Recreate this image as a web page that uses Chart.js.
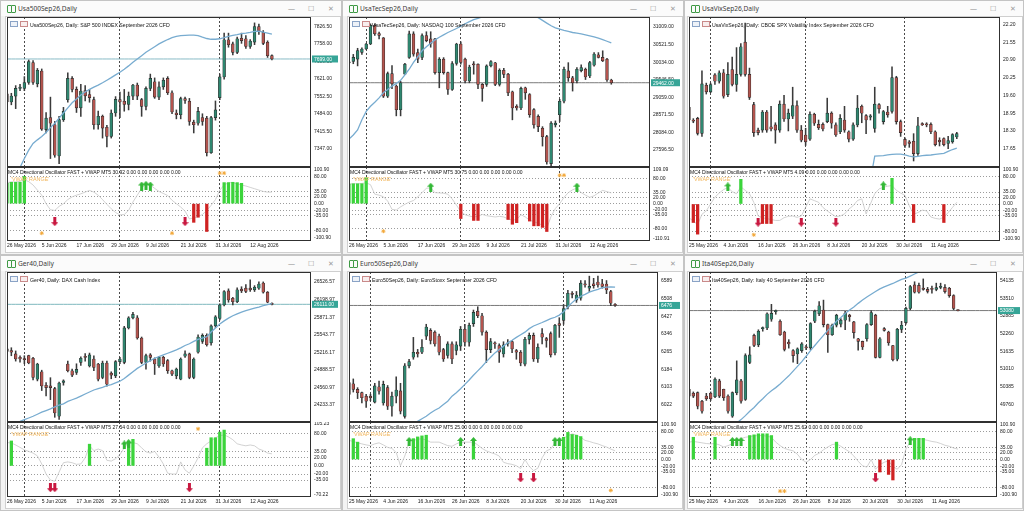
<!DOCTYPE html>
<html lang="en">
<head>
<meta charset="UTF-8">
<title>MT5 Daily charts</title>
<script src="https://cdn.jsdelivr.net/npm/chart.js"></script>
<style>
  body { margin: 0; width: 1024px; height: 511px; background: #e6e6e6; overflow: hidden; font-family: "Liberation Sans", Arial, sans-serif; }
  .win { position: absolute; background: #f3f3f3; box-sizing: border-box; border: 1px solid #c4c4c4; }
  .tbar { position: absolute; left: 0; top: 0; right: 0; height: 15px; background: #fbfbfb; color: #3a3a3a; font: 6.6px "Noto Sans", sans-serif; line-height: 15px; }
  .tbar .ico { position: absolute; left: 6px; top: 4px; width: 3px; height: 6px; border: 1px solid #3f9a45; border-radius: 1px; }
  .tbar .txt { position: absolute; left: 17px; top: 0; }
  .tbar .btn { position: absolute; top: 0; color: #9a9a9a; font-size: 7px; }
  .client { position: absolute; background: #fff; border: 1px solid #cfcfcf; box-sizing: border-box; }
  canvas { position: absolute; }
  .ctitle { position: absolute; font-size: 5.2px; color: #111; white-space: nowrap; }
  .ctitle i { display: inline-block; width: 6px; height: 4px; margin-right: 2px; vertical-align: -0.5px; }
  .otitle { position: absolute; font-size: 5px; color: #111; white-space: nowrap; }
  .vwap { position: absolute; font-size: 5.4px; color: #f1b55a; white-space: nowrap; }
</style>
</head>
<body>
<script>
// ---------- tick labels / categories ----------
const datesA = ['26 May 2026', '5 Jun 2026', '17 Jun 2026', '29 Jun 2026', '9 Jul 2026', '21 Jul 2026', '31 Jul 2026', '12 Aug 2026'];
const datesB = ['25 May 2026', '4 Jun 2026', '16 Jun 2026', '26 Jun 2026', '8 Jul 2026', '20 Jul 2026', '30 Jul 2026', '11 Aug 2026'];
const monthStartsA = [4, 26, 49];
const monthStartsB = [5, 27, 50];
const oscTicks = [100.9, 80, 35, 20, 0, -20, -35, -80, -100.9];

// ---------- Usa500Sep26 ----------
const p1Open = [7563,7531,7554,7584,7584,7607,7685,7602,7652,7423,7470,7442,7320,7462,7540,7623,7580,7508,7576,7560,7540,7442,7475,7432,7396,7488,7540,7534,7521,7554,7597,7540,7514,7584,7610,7550,7590,7623,7567,7488,7481,7544,7534,7452,7448,7470,7468,7333,7470,7548,7629,7774,7758,7725,7780,7778,7748,7765,7826,7803,7764,7712];
const p1Close = [7531,7554,7584,7589,7607,7689,7607,7655,7425,7468,7448,7323,7462,7494,7623,7580,7508,7574,7555,7548,7442,7475,7429,7396,7488,7541,7531,7521,7554,7597,7554,7514,7584,7623,7550,7590,7616,7567,7492,7481,7544,7537,7455,7442,7494,7455,7333,7470,7500,7629,7774,7755,7725,7778,7771,7748,7769,7826,7808,7760,7712,7699];
const p1High = [7580,7565,7595,7600,7630,7695,7693,7662,7660,7490,7550,7455,7475,7510,7645,7630,7590,7600,7595,7580,7550,7495,7480,7440,7500,7552,7570,7580,7570,7600,7605,7545,7590,7640,7625,7610,7625,7630,7575,7500,7550,7550,7545,7460,7510,7485,7475,7475,7535,7640,7800,7800,7765,7785,7800,7790,7775,7840,7835,7810,7770,7715];
const p1Low = [7520,7520,7505,7575,7575,7600,7600,7590,7420,7410,7310,7315,7290,7455,7530,7570,7490,7475,7535,7530,7425,7425,7390,7355,7390,7475,7470,7495,7500,7540,7540,7475,7500,7575,7545,7540,7580,7560,7485,7465,7465,7525,7440,7410,7440,7440,7320,7330,7460,7540,7620,7745,7715,7720,7760,7740,7740,7755,7795,7755,7705,7695];
const p1Ma = [7200,7225,7250,7275,7310,7343,7369,7383,7396,7412,7431,7448,7468,7488,7508,7528,7543,7558,7570,7580,7589,7597,7606,7616,7626,7637,7647,7659,7672,7686,7699,7712,7725,7736,7747,7758,7767,7775,7782,7787,7790,7791,7792,7792,7790,7784,7779,7776,7776,7778,7782,7787,7791,7794,7798,7800,7803,7807,7808,7804,7800,7796];
const p1Osc = [62,64,64,66,70,65,55,40,25,0,-18,-20,-8,0,12,20,25,29,34,39,34,25,12,-2,-15,-26,-33,-32,-20,5,25,45,58,55,45,36,30,24,10,0,-10,-22,-45,-42,-38,-32,-20,-5,12,40,55,62,62,58,55,52,48,44,40,36,34,34];
const p1Green = [[0,60],[1,63],[2,63],[3,63],[4,80],[50,62],[51,62],[52,63],[53,62],[54,60]];
const p1Red = [[43,-55],[44,-40],[46,-82]];
const p1Up = [[31,52],[32,54],[33,52]];
const p1Down = [[11,-53],[41,-53]];
const p1Star = [[8,-87],[38,-87],[49,90],[50,90]];
const p1Ticks = [7826.5, 7758, 7689.5, 7621, 7552.5, 7484, 7415.5, 7347];

// ---------- UsaTecSep26 ----------
const p2Open = [30043,30053,30118,30306,30400,30540,31056,30830,30709,29087,29715,29370,28712,29700,30165,30821,30300,30165,30775,30680,30680,29743,30118,29743,29275,29996,30540,30118,29509,29990,29978,29415,29415,29931,30015,29415,29809,29700,29209,28806,28759,29321,29134,28712,28525,28196,27962,27212,28290,28571,28946,29790,29600,29509,29800,29837,29650,29950,30240,30165,30118,29537];
const p2Close = [30015,30165,30353,30400,30540,31056,30821,30780,29087,29715,29434,28712,29462,29978,30821,30259,30118,30775,30634,30540,29743,30118,29743,29275,29996,30540,30025,29509,29900,29960,29415,29303,29931,30053,29415,29809,29696,29181,28759,28759,29303,29181,28571,28290,28243,27962,27259,28337,28337,28946,29837,29603,29462,29837,29884,29621,30025,30259,30165,30071,29537,29462];
const p2High = [30060,30250,30420,30430,30560,31100,31100,30870,30720,29760,29940,29400,29500,30000,30900,30880,30400,30821,30880,30880,30700,30160,30160,29760,30050,30560,30600,30150,29950,30050,29990,29440,29960,30080,30030,29850,29860,29720,29230,28850,29340,29340,29160,28740,28570,28240,28000,28380,28400,29000,29900,30020,29640,29880,29960,29870,30060,30300,30300,30350,30140,29560];
const p2Low = [30000,29990,29930,30250,30380,30520,30780,30680,29050,29050,29300,28540,28540,29700,30140,30200,30020,30100,30600,30450,29700,29321,29700,29134,29250,29950,29980,29460,29460,29700,29300,28946,29360,29900,29380,29370,29600,29100,28430,28700,28710,29000,28500,28200,28100,27700,27200,27150,28230,28384,28900,29500,29230,29460,29760,29550,29600,29920,30150,30050,29500,29420];
const p2Ma = [27896,28009,28150,28431,28665,28806,28918,29040,29181,29275,29368,29443,29528,29678,29837,30025,30184,30353,30465,30559,30653,30728,30793,30859,30915,30971,31037,31103,31159,31215,31253,31290,31318,31346,31370,31390,31400,31410,31410,31400,31390,31370,31340,31310,31271,31196,31121,31046,30990,30953,30915,30887,30859,30840,30821,30793,30765,30737,30700,30662,30615,30568];
const p2Osc = [62,63,63,64,66,60,30,27,22,8,-18,-20,-10,-2,5,10,22,35,49,50,35,34,33,30,15,-5,-25,-35,-39,-42,-40,-34,-38,-40,-42,-40,-42,-48,-52,-50,-35,-42,-52,-57,-62,-68,-78,-40,-15,0,20,35,44,49,35,27,20,25,34,42,38,34];
const p2Green = [[0,62],[1,63],[2,63],[3,63],[4,82]];
const p2Red = [[26,-47],[29,-53],[30,-53],[37,-50],[38,-65],[39,-60],[42,-55],[43,-70],[44,-70],[45,-75],[46,-88]];
const p2Up = [[19,52],[53,52]];
const p2Down = [];
const p2Star = [[8,-87],[49,90],[50,90]];
const p2Ticks = [31009, 30521.5, 30034, 29546.5, 29059, 28571.5, 28084, 27596.5];
const p2OscTicks = [109.09, 80, 35, 20, 0, -20, -35, -80, -110.91];

// ---------- UsaVixSep26 ----------
const p3Open = [19.16,18.70,18.76,18.21,19.97,19.73,20.35,20.12,20.43,19.63,20.55,20.00,20.37,21.55,20.37,19.26,18.33,18.33,18.99,18.45,18.52,18.33,19.28,18.74,18.84,19.23,18.33,18.15,18.00,18.91,18.54,18.54,18.64,18.95,18.52,18.27,18.70,18.27,18.00,18.52,19.20,18.86,18.80,18.39,19.26,18.64,18.99,19.01,20.25,18.64,17.99,17.90,17.92,17.47,18.57,18.55,18.54,18.27,17.96,18.02,17.84,17.90,18.08];
const p3Close = [18.70,18.66,18.21,20.02,19.73,20.00,20.12,20.43,19.57,20.37,20.00,20.37,21.38,20.37,19.53,18.24,18.24,18.99,18.33,18.37,18.33,19.28,18.74,18.95,19.23,18.33,17.96,17.90,18.91,18.58,18.42,18.37,18.95,18.58,18.15,18.76,18.33,18.00,18.52,19.14,18.95,18.70,18.85,19.28,19.11,19.01,18.89,20.25,18.64,18.24,17.77,17.84,17.47,18.49,18.52,18.52,18.27,17.80,17.90,17.80,17.95,18.17,18.20];
const p3High = [19.25,18.75,18.80,20.50,20.05,20.05,20.40,20.50,20.55,20.80,21.00,21.35,21.50,22.25,20.60,19.35,18.40,19.05,19.05,19.20,18.60,19.40,19.60,19.10,19.90,19.40,18.50,18.40,19.00,18.95,18.70,18.60,19.50,19.00,18.60,18.90,19.20,18.30,18.60,19.60,19.25,18.90,18.90,19.90,19.30,19.05,19.20,20.65,20.30,18.70,18.05,17.95,18.20,18.80,18.60,18.60,18.60,18.30,18.05,18.05,18.10,18.20,18.25];
const p3Low = [18.64,18.60,18.15,18.10,19.65,19.70,20.00,20.05,19.50,19.55,19.95,19.75,20.30,20.30,19.45,18.10,18.15,18.25,18.25,18.30,17.85,18.25,18.65,18.30,18.75,18.25,17.90,17.77,17.95,18.50,18.35,18.30,18.60,18.40,18.10,18.20,18.25,17.90,17.95,18.45,18.60,18.20,18.70,18.25,18.95,18.55,18.80,18.95,18.55,18.10,17.70,17.70,17.20,17.40,18.50,18.45,18.20,17.75,17.75,17.75,17.65,17.85,18.02];
const p3MaStart = 42;
const p3Ma = [16.5,17.38,17.39,17.40,17.42,17.44,17.45,17.45,17.42,17.38,17.35,17.37,17.40,17.41,17.42,17.44,17.46,17.48,17.55,17.62,17.67];
const p3Osc = [-40,-50,-60,-30,-20,0,20,32,42,48,36,30,50,40,30,5,-35,-40,-43,-45,-48,-48,-40,-36,-35,-39,-35,-10,15,10,5,-10,-20,-29,-37,-35,-29,-15,-5,10,15,-29,0,30,44,49,52,54,40,32,25,-5,-30,-25,-18,-20,-38,-42,-44,-39,-25,-10,5];
const p3Green = [[12,72],[47,75]];
const p3Red = [[1,-54],[2,-88],[17,-57],[18,-57],[19,-57],[52,-54],[59,-54]];
const p3Up = [[9,50],[45,53]];
const p3Down = [[16,-53],[26,-53],[34,-53]];
const p3Star = [[15,-90]];
const p3Ticks = [22.20, 21.55, 20.90, 20.25, 19.60, 18.95, 18.30, 17.65];

// ---------- Ger40 ----------
const p4Open = [25279,25247,25185,25120,25090,25153,25103,24712,24850,24598,24586,24536,24019,24650,24995,24870,24838,25027,25140,24960,25090,24995,24743,25015,24825,24775,25040,25027,25670,25859,25859,25481,25027,25166,25090,24960,25121,25058,24870,24775,24712,25140,25185,24743,25216,25420,25531,25392,25708,25847,26098,26362,26224,26161,26395,26413,26413,26382,26413,26508,26338,26130];
const p4Close = [25229,25216,25090,25090,25078,25015,24743,24995,24586,24555,24555,24082,24640,24680,24870,24788,24895,25103,25120,25166,24932,24712,25015,24617,24788,25040,25090,25670,25859,25922,25481,25027,25153,25121,24995,25121,24995,24870,24807,24901,25090,25185,24743,25090,25499,25531,25355,25708,25878,26098,26350,26193,26161,26382,26362,26350,26382,26430,26489,26338,26149,26111];
const p4High = [25330,25300,25240,25150,25150,25160,25120,25010,24880,24650,24740,24560,24660,24700,25050,24900,25000,25130,25190,25200,25150,25010,25050,25050,24850,25060,25120,25700,25880,25960,25900,25500,25180,25190,25110,25140,25140,25080,24880,24920,25110,25240,25200,25110,25540,25560,25560,25730,25900,26120,26370,26400,26240,26420,26440,26480,26570,26460,26530,26530,26350,26140];
const p4Low = [25200,25150,25050,25030,25000,25000,24700,24680,24500,24400,24330,24000,23960,24600,24850,24760,24800,24970,25050,24940,24870,24680,24720,24580,24720,24740,25000,25000,25650,25840,25460,25000,24900,25050,24800,24930,24950,24820,24780,24720,24700,25120,24720,24720,25200,25380,25330,25350,25680,25820,26080,26150,26100,26140,26330,26330,26350,26350,26390,26320,26140,26100];
const p4Ma = [23850,23880,23900,23924,23956,23987,24019,24057,24095,24126,24158,24196,24227,24252,24296,24328,24359,24397,24435,24473,24510,24536,24561,24592,24611,24643,24674,24725,24788,24851,24914,24964,25015,25059,25103,25134,25166,25197,25229,25260,25298,25342,25374,25418,25456,25481,25506,25594,25670,25745,25802,25852,25897,25934,25966,25991,26016,26041,26060,26085,26104,26123];
const p4Osc = [58,57,52,46,40,36,32,25,5,-20,-35,-38,-15,8,10,8,4,5,20,50,38,42,38,14,12,18,28,45,55,58,55,45,35,32,36,22,5,-18,-20,-20,10,-10,-18,0,20,45,55,62,70,75,77,72,65,55,52,50,52,50,42,38,32,30];
const p4Green = [[1,62],[19,54],[28,62],[29,66],[46,44],[47,70],[48,70],[49,84],[50,89]];
const p4Red = [];
const p4Up = [[27,52],[28,55]];
const p4Down = [[10,-54],[11,-54],[42,-54]];
const p4Star = [[44,92]];
const p4Ticks = [26526.57, 26198.97, 25871.37, 25543.77, 25216.17, 24888.57, 24560.97, 24233.37];
const p4OscTicks = [105.23, 80, 35, 20, 0, -20, -35, -70.22];

// ---------- Euro50Sep26 ----------
const p5Open = [6123,6118,6092,6077,6061,6061,6034,6104,6030,6100,6015,6061,6085,5969,6200,6239,6262,6262,6336,6362,6354,6336,6274,6247,6300,6270,6290,6367,6308,6393,6450,6429,6354,6274,6305,6293,6254,6300,6311,6270,6262,6208,6321,6339,6231,6347,6324,6347,6259,6393,6408,6470,6532,6500,6509,6575,6555,6575,6583,6575,6574,6540,6481];
const p5Close = [6069,6092,6077,6054,6038,6054,6108,6084,6115,6015,6061,6089,5992,6200,6219,6262,6254,6285,6377,6316,6300,6262,6231,6300,6231,6296,6367,6308,6385,6444,6429,6354,6274,6311,6300,6262,6296,6305,6277,6262,6213,6321,6339,6231,6285,6331,6316,6250,6385,6385,6462,6532,6527,6524,6578,6570,6563,6567,6570,6563,6547,6486,6476];
const p5High = [6146,6140,6100,6080,6070,6070,6120,6130,6130,6110,6080,6150,6120,6210,6230,6330,6275,6320,6390,6370,6360,6345,6280,6310,6310,6310,6380,6390,6395,6455,6470,6440,6360,6325,6310,6300,6310,6320,6315,6275,6270,6330,6350,6350,6300,6370,6330,6355,6390,6420,6480,6545,6540,6540,6590,6590,6610,6600,6610,6595,6590,6545,6485];
const p5Low = [6061,6080,6050,6030,6010,6040,6030,6070,6020,6000,5970,6030,5980,5960,6190,6230,6240,6255,6320,6300,6290,6250,6220,6235,6210,6250,6270,6290,6290,6380,6420,6340,6215,6260,6280,6215,6240,6290,6260,6230,6200,6200,6300,6220,6215,6300,6285,6240,6250,6330,6390,6460,6510,6490,6500,6560,6540,6555,6560,6555,6530,6475,6472];
const p5MaStart = 15;
const p5Ma = [5920,5946,5958,5969,5984,5997,6007,6023,6038,6061,6077,6095,6115,6135,6157,6177,6197,6219,6239,6259,6274,6290,6305,6317,6330,6342,6354,6370,6382,6390,6398,6407,6416,6422,6432,6447,6470,6489,6506,6518,6527,6537,6544,6550,6557,6560,6561,6560];
const p5Osc = [55,52,48,45,42,40,45,48,42,35,32,20,-18,10,50,55,58,60,56,50,50,50,45,40,38,45,50,50,50,50,42,32,25,20,16,10,-8,-12,-14,-18,-26,0,-20,-32,-25,5,25,30,48,58,62,68,74,70,64,55,52,48,45,40,36,30,25];
const p5Green = [[1,60],[2,50],[15,60],[16,65],[17,68],[18,70],[29,50],[50,64],[51,78],[52,72],[53,70],[54,66]];
const p5Red = [];
const p5Up = [[14,52],[26,52],[29,52],[48,52],[49,52]];
const p5Down = [[40,-53],[43,-53]];
const p5Star = [[61,-89]];
const p5Ticks = [6589, 6508, 6427, 6346, 6265, 6184, 6103, 6022];

// ---------- Ita40Sep26 ----------
const p6Open = [50293,50150,50174,49875,50054,50150,50030,50591,50293,50054,49339,50174,50591,49935,51247,52202,51868,52440,52465,52775,53045,52703,52322,51963,51665,51546,51665,51800,51760,52703,52965,53097,52584,52226,52560,52600,52740,52918,52679,52083,51990,52083,52584,52918,51426,52440,52320,51845,51360,52416,52655,53156,53990,53970,53872,53830,53870,53830,53900,53900,53870,53610,53100];
const p6Close = [50054,50054,49697,49518,49960,49960,50651,50054,49995,49518,50174,50627,49875,51486,51510,51844,52345,52465,52965,52981,53060,52226,51701,51900,51486,51725,51900,51760,52620,53060,53252,52584,52226,52560,52918,52740,52980,52860,52300,51990,51790,52584,53010,51426,52083,52380,51940,51340,52416,52560,53156,53930,53730,53730,53830,53760,53830,53890,53930,53750,53610,53156,53080];
const p6High = [50350,50200,50200,49900,50150,50200,50700,50650,50300,50100,50200,51300,50650,51550,51800,52250,52400,52500,53000,53300,53100,52750,52350,52050,51700,51760,51950,51850,52650,53100,53400,53450,52600,52600,52950,52800,53050,52950,52700,52100,52000,52620,53080,52950,52120,52480,52350,51850,52450,52700,53200,53970,54100,54050,54200,53900,53950,54050,54050,54000,53900,53640,53110];
const p6Low = [50000,50000,49600,49450,49900,49900,50000,50000,49900,49450,49300,50100,49800,49900,51200,51800,51800,52350,52400,52700,52950,52200,51650,51750,51250,51200,51600,51700,51700,52650,52900,52500,51600,52200,52500,52500,52400,52700,52100,51680,51700,52000,52550,51400,51400,52350,51850,51300,51300,52300,52600,53100,53700,53700,53800,53700,53700,53780,53850,53700,53550,53100,53070];
const p6MaStart = 11;
const p6Ma = [49100,49220,49362,49518,49649,49816,49960,50114,50245,50353,50484,50627,50770,50937,51104,51271,51462,51665,51844,52023,52202,52381,52536,52703,52834,52977,53097,53204,53335,53454,53562,53657,53753,53848,53920,53979,54039,54111,54182,54230,54301,54373,54445,54500,54550,54600,54650,54700,54740,54780,54820,54860];
const p6Osc = [50,52,50,48,46,45,46,42,36,40,45,52,60,64,66,68,69,69,67,64,50,40,32,28,25,15,0,-8,0,12,18,28,36,43,45,38,30,22,10,-5,-18,-22,0,-28,-15,-8,-4,-20,-28,-15,30,52,58,60,58,55,52,50,46,41,38,33,30];
const p6Green = [[1,64],[6,64],[14,69],[15,71],[16,74],[17,74],[18,74],[19,69],[34,50],[52,61],[53,61],[54,61]];
const p6Red = [[44,-36],[46,-43],[47,-59]];
const p6Up = [[10,52],[11,52],[12,52],[51,54]];
const p6Down = [[43,-53]];
const p6Star = [[21,-91],[22,-91]];
const p6Ticks = [54135, 53510, 52885, 52260, 51635, 51010, 50385, 49760];

// ---------- helpers ----------
function sparse(n, pairs) {
  const a = new Array(n).fill(null);
  pairs.forEach(([i, v]) => { a[i] = v; });
  return a;
}
function fromStart(n, start, vals) {
  const a = new Array(n).fill(null);
  vals.forEach((v, k) => { a[start + k] = v; });
  return a;
}

const GREEN = '#2f8770';
const RED = '#b4544e';
const MA_COLOR = '#78acd0';
const TAG = '#36a597';

const panels = [
  { left: 0, top: 0, w: 342, h: 255, plotLeft: 6, plotRight: 310, slots: 71,
    win: 'Usa500Sep26,Daily', title: 'Usa500Sep26, Daily:  S&P 500 INDEX September 2026 CFD', oscVal: '30.92',
    open: p1Open, high: p1High, low: p1Low, close: p1Close, ma: p1Ma,
    ticks: p1Ticks, min: 7277, max: 7863, dec: 2, lineColor: '#7cb3c0',
    osc: p1Osc, green: p1Green, red: p1Red, up: p1Up, down: p1Down, star: p1Star,
    oTicks: oscTicks, oMin: -110, oMax: 108, dates: datesA, seps: monthStartsA },
  { left: 342, top: 0, w: 342, h: 255, plotLeft: 6, plotRight: 307, slots: 71,
    win: 'UsaTecSep26,Daily', title: 'UsaTecSep26, Daily:  NASDAQ 100 September 2026 CFD', oscVal: '30.75',
    open: p2Open, high: p2High, low: p2Low, close: p2Close, ma: p2Ma,
    ticks: p2Ticks, min: 27118, max: 31290, dec: 2, lineColor: '#6a6a6a',
    osc: p2Osc, green: p2Green, red: p2Red, up: p2Up, down: p2Down, star: p2Star,
    oTicks: p2OscTicks, oMin: -118, oMax: 116, dates: datesA, seps: monthStartsA },
  { left: 684, top: 0, w: 340, h: 255, plotLeft: 4, plotRight: 315, slots: 73,
    win: 'UsaVixSep26,Daily', title: 'UsaVixSep26, Daily:  CBOE SPX Volatility Index September 2026 CFD', oscVal: '4.09',
    open: p3Open, high: p3High, low: p3Low, close: p3Close, ma: fromStart(p3Close.length, p3MaStart, p3Ma),
    ticks: p3Ticks, min: 16.98, max: 22.47, dec: 2, lineColor: null,
    osc: p3Osc, green: p3Green, red: p3Red, up: p3Up, down: p3Down, star: p3Star,
    oTicks: oscTicks, oMin: -108, oMax: 108, dates: datesB, seps: monthStartsB },
  { left: 0, top: 255, w: 342, h: 256, plotLeft: 6, plotRight: 310, slots: 71,
    win: 'Ger40,Daily', title: 'Ger40, Daily:  DAX Cash Index', oscVal: '27.54',
    open: p4Open, high: p4High, low: p4Low, close: p4Close, ma: p4Ma,
    ticks: p4Ticks, min: 23912, max: 26715, dec: 2, lineColor: '#6fb0b6',
    osc: p4Osc, green: p4Green, red: p4Red, up: p4Up, down: p4Down, star: p4Star,
    oTicks: p4OscTicks, oMin: -77, oMax: 109, dates: datesA, seps: monthStartsA },
  { left: 342, top: 255, w: 342, h: 256, plotLeft: 6, plotRight: 315, slots: 73,
    win: 'Euro50Sep26,Daily', title: 'Euro50Sep26, Daily:  EuroStoxx  September 2026 CFD', oscVal: '25.00',
    open: p5Open, high: p5High, low: p5Low, close: p5Close, ma: fromStart(p5Close.length, p5MaStart, p5Ma),
    ticks: p5Ticks, min: 5943, max: 6629, dec: 0, lineColor: '#6a6a6a',
    osc: p5Osc, green: p5Green, red: p5Red, up: p5Up, down: p5Down, star: p5Star,
    oTicks: oscTicks, oMin: -108, oMax: 108, dates: datesB, seps: monthStartsB },
  { left: 684, top: 255, w: 340, h: 256, plotLeft: 4, plotRight: 312, slots: 72,
    win: 'Ita40Sep26,Daily', title: 'Ita40Sep26, Daily:  Italy 40 September 2026 CFD', oscVal: '25.62',
    open: p6Open, high: p6High, low: p6Low, close: p6Close, ma: fromStart(p6Close.length, p6MaStart, p6Ma),
    ticks: p6Ticks, min: 49136, max: 54445, dec: 0, lineColor: '#6a6a6a',
    osc: p6Osc, green: p6Green, red: p6Red, up: p6Up, down: p6Down, star: p6Star,
    oTicks: oscTicks, oMin: -108, oMax: 108, dates: datesB, seps: monthStartsB },
];

Chart.defaults.font.family = '"Liberation Sans", Arial, sans-serif';
Chart.defaults.font.size = 5;
Chart.defaults.color = '#1a1a1a';
Chart.defaults.animation = false;

// plot frame around the chart area
const frame = {
  id: 'frame',
  afterDraw(chart) {
    const { ctx, chartArea: a } = chart;
    ctx.save();
    ctx.strokeStyle = '#303030';
    ctx.lineWidth = 1;
    ctx.strokeRect(a.left + 0.5, a.top + 0.5, a.right - a.left - 1, a.bottom - a.top - 1);
    ctx.restore();
  }
};

// current price tag on the right axis
const priceTag = {
  id: 'priceTag',
  afterDraw(chart, args, opts) {
    if (!opts.show) return;
    const { ctx, chartArea: a } = chart;
    const y = chart.scales.y.getPixelForValue(opts.value);
    ctx.save();
    ctx.fillStyle = TAG;
    ctx.fillRect(a.right + 1, y - 3.5, chart.width - a.right - 3, 7);
    ctx.fillStyle = '#fff';
    ctx.font = '5px "Liberation Sans", Arial, sans-serif';
    ctx.textBaseline = 'middle';
    ctx.fillText(opts.text, a.right + 3, y + 0.5);
    ctx.restore();
  }
};

function arrowImage(color, up) {
  const c = document.createElement('canvas');
  c.width = 7; c.height = 9;
  const g = c.getContext('2d');
  g.fillStyle = color;
  g.beginPath();
  if (up) {
    g.moveTo(3.5, 0); g.lineTo(7, 4); g.lineTo(5, 4); g.lineTo(5, 9); g.lineTo(2, 9); g.lineTo(2, 4); g.lineTo(0, 4);
  } else {
    g.moveTo(3.5, 9); g.lineTo(7, 5); g.lineTo(5, 5); g.lineTo(5, 0); g.lineTo(2, 0); g.lineTo(2, 5); g.lineTo(0, 5);
  }
  g.closePath();
  g.fill();
  return c;
}
const upImg = arrowImage('#33b836', true);
const downImg = arrowImage('#c8173f', false);

function el(tag, cls, parent, style, text) {
  const e = document.createElement(tag);
  if (cls) e.className = cls;
  if (style) Object.assign(e.style, style);
  if (text) e.textContent = text;
  parent.appendChild(e);
  return e;
}

function sepGrid(p) {
  return {
    color: c => p.seps.includes(c.index) ? '#4a4a4a' : 'rgba(0,0,0,0)',
    lineWidth: 1, drawTicks: false, offset: false
  };
}

function buildPanel(p) {
  const win = el('div', 'win', document.body, { left: p.left + 'px', top: p.top + 'px', width: p.w + 'px', height: p.h + 'px' });
  const bar = el('div', 'tbar', win);
  el('span', 'ico', bar);
  el('span', 'ico', bar, { left: '10px' });
  el('span', 'txt', bar, null, p.win);
  el('span', 'btn', bar, { left: (p.w - 55) + 'px' }, '—');
  el('span', 'btn', bar, { left: (p.w - 35) + 'px' }, '☐');
  el('span', 'btn', bar, { left: (p.w - 15) + 'px' }, '✕');
  el('div', 'client', win, { left: (p.plotLeft - 2) + 'px', top: '15px', width: (p.w - p.plotLeft) + 'px', height: (p.h - 18) + 'px' });

  const n = p.close.length;
  const cw = p.w - 3 - p.plotLeft;
  const axisW = cw - (p.plotRight - p.plotLeft);
  const slots = Array.from({ length: p.slots }, (_, i) => i);

  // ---- price chart ----
  const pc = el('canvas', null, win, { left: p.plotLeft + 'px', top: '16px' });
  pc.width = cw; pc.height = 150;
  const datasets = [
    { type: 'line', data: p.ma, borderColor: MA_COLOR, borderWidth: 1.3, pointRadius: 0, order: 1 },
    { data: p.open.map((o, i) => [o, p.close[i]]), backgroundColor: p.open.map((o, i) => p.close[i] >= o ? GREEN : RED),
      borderColor: '#2a2a2a', borderWidth: 0.6, borderSkipped: false, barThickness: 2.8, minBarLength: 1, grouped: false, order: 2 },
    { data: p.low.map((l, i) => [l, p.high[i]]), backgroundColor: '#3a3a3a', barThickness: 0.9, grouped: false, order: 3 },
  ];
  if (p.lineColor) {
    datasets.push({ type: 'line', data: slots.map(() => p.close[n - 1]), borderColor: p.lineColor, borderWidth: 0.9, pointRadius: 0, order: 4 });
  }
  new Chart(pc, {
    type: 'bar',
    data: { labels: slots, datasets },
    options: {
      responsive: false,
      layout: { padding: 0, autoPadding: false },
      plugins: { legend: { display: false }, tooltip: { enabled: false },
        priceTag: { show: !!p.lineColor, value: p.close[n - 1], text: p.close[n - 1].toFixed(p.dec) } },
      scales: {
        x: { offset: false, grid: sepGrid(p), border: { display: false, dash: [2, 2] },
          ticks: { display: false, autoSkip: false },
          afterFit: s => { s.height = 0; s.paddingLeft = 0; s.paddingRight = 0; } },
        y: { position: 'right', min: p.min, max: p.max,
          grid: { display: false, drawTicks: false, tickLength: 0 }, border: { display: false },
          ticks: { padding: 3, autoSkip: false, callback: v => Number(v).toFixed(p.dec) },
          afterBuildTicks: s => { s.ticks = p.ticks.map(v => ({ value: v })); },
          afterFit: s => { s.width = axisW; s.paddingTop = 0; s.paddingBottom = 0; } }
      }
    },
    plugins: [frame, priceTag]
  });

  // ---- oscillator ----
  const oc = el('canvas', null, win, { left: p.plotLeft + 'px', top: '166px' });
  oc.width = cw; oc.height = p.h - 170;
  const oTop = p.oTicks[0], oBottom = p.oTicks[p.oTicks.length - 1];
  new Chart(oc, {
    type: 'bar',
    data: {
      labels: slots,
      datasets: [
        { type: 'line', data: p.osc, borderColor: '#c6c6c6', borderWidth: 0.8, pointRadius: 0, order: 6 },
        { data: sparse(n, p.green), backgroundColor: '#3bd43b', barThickness: 2.6, grouped: false, order: 5 },
        { data: sparse(n, p.red), backgroundColor: '#cf2222', barThickness: 2.6, grouped: false, order: 4 },
        { type: 'line', data: sparse(n, p.up), showLine: false, pointStyle: upImg, pointRadius: 3, order: 3 },
        { type: 'line', data: sparse(n, p.down), showLine: false, pointStyle: downImg, pointRadius: 3, order: 2 },
        { type: 'line', data: sparse(n, p.star), showLine: false, pointStyle: 'star', pointRadius: 2,
          borderColor: '#f2a83a', backgroundColor: '#f2a83a', borderWidth: 1, order: 1 },
      ]
    },
    options: {
      responsive: false,
      layout: { padding: 0, autoPadding: false },
      plugins: { legend: { display: false }, tooltip: { enabled: false } },
      scales: {
        x: { offset: false, grid: sepGrid(p), border: { display: false, dash: [2, 2] },
          ticks: { autoSkip: false, maxRotation: 0, align: 'start', padding: 2,
            callback: (v, i) => (i % 8 === 0 && p.dates[i / 8]) || '' },
          afterFit: s => { s.height = 11; s.paddingLeft = 0; s.paddingRight = 0; } },
        y: { position: 'right', min: p.oMin, max: p.oMax,
          grid: { drawTicks: false, tickLength: 0,
            color: c => (c.tick.value === oTop || c.tick.value === oBottom) ? 'rgba(0,0,0,0)' : '#9c9c9c' },
          border: { display: false, dash: [1, 2] },
          ticks: { padding: 3, autoSkip: false, callback: v => Number(v).toFixed(2) },
          afterBuildTicks: s => { s.ticks = p.oTicks.map(v => ({ value: v })); },
          afterFit: s => { s.width = axisW; s.paddingTop = 0; s.paddingBottom = 0; } }
      }
    },
    plugins: [frame]
  });

  // overlay captions
  const ct = el('div', 'ctitle', win, { left: (p.plotLeft + 3) + 'px', top: '20px' });
  el('i', null, ct, { border: '1px solid #8aa3c6', background: '#eef2f8' });
  el('i', null, ct, { border: '1px solid #c98a8a', background: '#f8eeee' });
  ct.appendChild(document.createTextNode(p.title));
  el('div', 'otitle', win, { left: (p.plotLeft + 1) + 'px', top: '168px' },
    'MC4 Directional Oscillator FAST  + VWAP MT5 ' + p.oscVal + ' 0.00 0.00 0.00 0.00 0.00');
  el('div', 'vwap', win, { left: (p.plotLeft + 4) + 'px', top: '175px' }, "'VWAP RANGE'");
}

panels.forEach(buildPanel);
</script>
</body>
</html>
